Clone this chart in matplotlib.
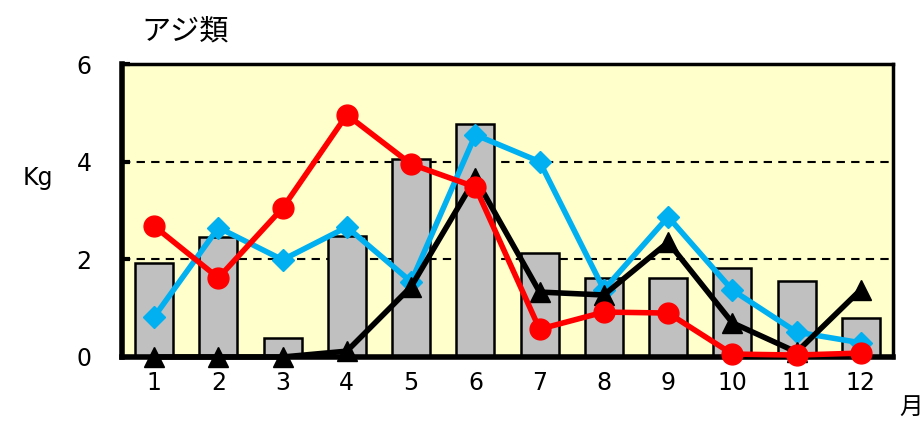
# アジ類 monthly catch chart

import matplotlib
matplotlib.use("Agg")
from matplotlib import pyplot as plt

plt.rcParams['font.family'] = ['DejaVu Sans', 'Noto Sans CJK JP']

months = ['1', '2', '3', '4', '5', '6', '7', '8', '9', '10', '11', '12']
bar_values = [1.93, 2.46, 0.39, 2.47, 4.06, 4.77, 2.13, 1.62, 1.62, 1.82, 1.56, 0.80]
red_values = [2.68, 1.62, 3.05, 4.96, 3.95, 3.48, 0.57, 0.92, 0.90, 0.06, 0.04, 0.08]
blue_values = [0.82, 2.65, 1.99, 2.66, 1.54, 4.55, 4.00, 1.38, 2.87, 1.37, 0.51, 0.29]
black_values = [0.0, 0.0, 0.0, 0.12, 1.44, 3.66, 1.33, 1.27, 2.35, 0.70, 0.10, 1.38]
y_ticks = [0, 2, 4, 6]

fig = plt.figure(figsize=(9.24, 4.21), dpi=100)
ax = fig.add_axes([122 / 924, (421 - 357) / 421, 771 / 924, 293 / 421])
ax.set_facecolor('#FFFFCC')

x = list(range(len(months)))
ax.bar(x, bar_values, width=0.59, color='#C0C0C0', edgecolor='black', linewidth=1.8, zorder=2)

ax.plot(x, blue_values, color='#00B0F0', linewidth=4, marker='D', markersize=11,
        zorder=3, clip_on=False)
ax.plot(x, black_values, color='black', linewidth=4, marker='^', markersize=15,
        zorder=4, clip_on=False)
ax.plot(x, red_values, color='#FF0000', linewidth=4, marker='o', markersize=15,
        zorder=5, clip_on=False)

ax.set_xlim(-0.5, len(months) - 0.5)
ax.set_ylim(0, 6)
ax.set_xticks(x)
ax.set_xticklabels(months)
ax.set_yticks(y_ticks)
for v in y_ticks[1:-1]:
    ax.axhline(v, color='black', linestyle=(0, (4, 3)), linewidth=1.5, zorder=1)

ax.tick_params(axis='x', length=0, pad=10, labelsize=17)
ax.tick_params(axis='y', direction='in', length=6, width=3, pad=22, labelsize=17)

ax.spines['left'].set_linewidth(4)
ax.spines['bottom'].set_linewidth(4)
ax.spines['top'].set_linewidth(2.5)
ax.spines['right'].set_linewidth(2.5)
ax.spines['bottom'].set_zorder(3)

fig.text(141 / 924, 1 - 32 / 421, 'アジ類', fontsize=21, ha='left', va='center',
         family=['Noto Sans CJK JP', 'DejaVu Sans'])
fig.text(38 / 924, 1 - 178 / 421, 'Kg', fontsize=17, ha='center', va='center')
fig.text(911 / 924, 1 - 407 / 421, '月', fontsize=17, ha='center', va='center',
         family=['Noto Sans CJK JP', 'DejaVu Sans'])

plt.savefig('out.png', dpi=100)
